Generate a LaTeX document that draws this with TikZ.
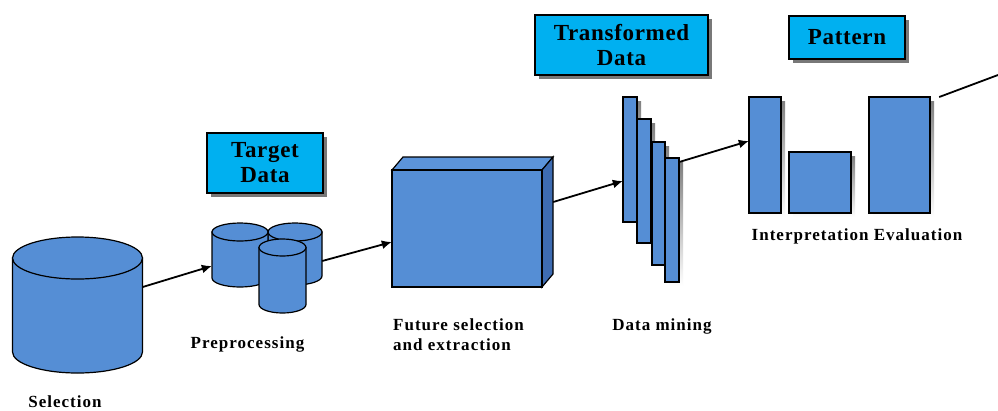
\documentclass[tikz,border=0pt]{standalone}
\usepackage{fontspec}
\setmainfont{Liberation Serif}
\usetikzlibrary{arrows.meta,shadows}

\definecolor{dbblue}{RGB}{85,142,213}
\definecolor{dbdark}{RGB}{62,108,178}
\definecolor{dbtop}{RGB}{92,148,218}
\definecolor{tagcyan}{RGB}{0,176,240}
\definecolor{shade}{RGB}{120,120,120}

% cylinder: #1 name, #2 centre x, #3 top-ellipse y, #4 bottom-ellipse y, #5 rx, #6 ry
\newcommand\dbdrum[6]{%
  \fill[dbblue,draw=black,line width=1.2pt]
    (#2-#5,#3) -- (#2-#5,#4)
    arc[start angle=180,end angle=0,x radius=#5,y radius=#6]
    -- (#2+#5,#3) -- cycle;
  \draw[fill=dbblue,line width=1.2pt] (#2,#3) ellipse[x radius=#5,y radius=#6];
  \node[inner sep=0,minimum width=2*#5 pt,minimum height=(#4-#3+2*#6)*1pt]
    (#1) at (#2,{(#3+#4)/2}) {};
}
% shadowed flat bar: #1 name, #2 x1, #3 y1, #4 x2, #5 y2
\newcommand\dbbar[5]{%
  \fill[shade] (#2+4,#3+4) rectangle (#4+4,#5+4);
  \draw[fill=dbblue,line width=1.2pt] (#2,#3) rectangle (#4,#5);
  \node[inner sep=0,minimum width=(#4-#2)*1pt,minimum height=(#5-#3)*1pt]
    (#1) at ({(#2+#4)/2},{(#3+#5)/2}) {};
}

\tikzset{
  tag/.style={draw=black,line width=1.2pt,fill=tagcyan,align=center,
    font=\fontsize{23}{25}\selectfont\bfseries\addfontfeatures{LetterSpace=3},inner sep=0pt,
    drop shadow={shadow xshift=4pt,shadow yshift=-4pt,fill=shade,opacity=1}},
  caption/.style={font=\fontsize{17}{20}\selectfont\bfseries\addfontfeatures{LetterSpace=6},
    inner sep=0pt,anchor=base},
  flow/.style={line width=1.8pt,-{Latex[length=10pt,width=9pt]}},
  plainflow/.style={line width=1.8pt},
}

\begin{document}
\begin{tikzpicture}[x=1pt,y=-1pt]
\useasboundingbox[fill=white] (0,0) rectangle (998,410);

% selection store
\dbdrum{sel}{77.5}{258}{352}{65}{21}

% preprocessing stores
\dbdrum{ppB}{295}{232}{276}{27}{9}
\dbdrum{ppA}{240}{232}{278}{28}{9}
\dbdrum{ppC}{282.5}{247.5}{304.5}{23.5}{8.5}

% feature selection block
\fill[dbtop,draw=black,line width=1.2pt] (392,170) -- (403,157) -- (553,157) -- (542,170) -- cycle;
\fill[dbdark,draw=black,line width=1.2pt] (542,170) -- (553,157) -- (553,274) -- (542,287) -- cycle;
\draw[fill=dbblue,line width=1.2pt] (392,170) rectangle (542,287);
\node[inner sep=0,minimum width=161pt,minimum height=130pt] (fs) at (472.5,222) {};

% data mining layers
\dbbar{dm1}{623}{97}{637}{222}
\dbbar{dm2}{637}{119}{651}{243}
\dbbar{dm3}{652}{142}{665}{265}
\dbbar{dm4}{665}{158}{679}{282}

% interpretation and evaluation
\dbbar{ip1}{749}{97}{781}{213}
\dbbar{ip2}{789}{152}{851}{213}
\dbbar{ev}{869}{97}{930}{213}

% tags
\node[tag,minimum width=116pt,minimum height=60pt] (tTarget) at (265,163) {Target\\Data};
\node[tag,minimum width=173pt,minimum height=60pt] (tTrans) at (621.5,45) {Transformed\\Data};
\node[tag,minimum width=116pt,minimum height=43pt] (tPat) at (847,37.5) {Pattern};

% captions
\node[caption] (cSel) at (65,407) {Selection};
\node[caption] (cPre) at (247.5,348) {Preprocessing};
\node[caption,anchor=base west] (cFs1) at (393,330) {Future selection};
\node[caption,anchor=base west] (cFs2) at (393,350) {and extraction};
\node[caption] (cDm) at (662,330) {Data mining};
\node[caption] (cIe) at (857,240) {Interpretation Evaluation};

% connectors
\coordinate (out) at (998,75);
\draw[flow] (sel.east |- 0,287) -- (ppA.west |- 0,266);
\draw[flow] (ppB.east |- 0,261) -- (fs.west |- 0,242);
\draw[flow] (fs.east |- 0,202) -- (dm1.west |- 0,181);
\draw[flow] (dm4.east |- 0,162) -- (ip1.west |- 0,141);
\draw[plainflow] (ev.east |- 0,97) ++(9,0) -- (out);
\end{tikzpicture}
\end{document}
